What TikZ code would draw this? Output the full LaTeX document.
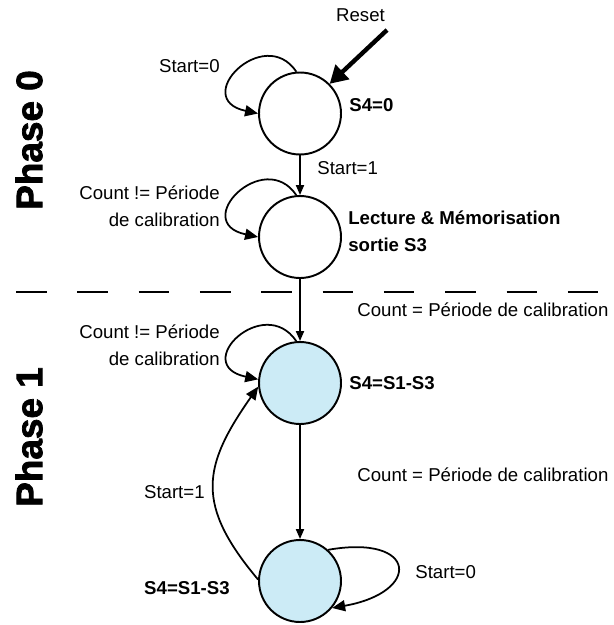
\documentclass[tikz,border=0pt]{standalone}
\usepackage{fontspec}
\setmainfont{Liberation Sans}
\newfontfamily\phasefont[FakeBold=2]{Liberation Sans Bold}
\usetikzlibrary{positioning,arrows.meta}
\definecolor{stateblue}{RGB}{204,235,246}

\begin{document}
\begin{tikzpicture}[x=0.02cm,y=0.02cm,
  state/.style={circle,draw,line width=1.1pt,minimum size=1.64cm,inner sep=0pt},
  lbl/.style={inner sep=0pt,font=\fontsize{10.6}{15.4}\selectfont},
  blbl/.style={inner sep=0pt,font=\fontsize{10.6}{15.4}\selectfont\bfseries},
  phase/.style={rotate=90,inner sep=0pt,font=\fontsize{21}{21}\selectfont\phasefont},
  trans/.style={line width=1pt,-{Triangle[length=5.7pt,width=4.6pt]}},
  loopy/.style={line width=1pt,-{Triangle[length=7.4pt,width=6.3pt]}}]
\useasboundingbox (0,0) rectangle (614,-625);
% states
\node[state] (s0) at (300,-113.5) {};
\node[state] (s1) at (300,-237) {};
\node[state,fill=stateblue] (s2) at (300,-383) {};
\node[state,fill=stateblue] (s3) at (300,-581) {};
% phase separator
\draw[line width=1.1pt,dash pattern=on 17.4pt off 17.5pt] (16,-292) -- (614,-292);
\node[phase] (ph0) at (29,-140) {Phase 0};
\node[phase] (ph1) at (29,-437) {Phase 1};
% reset
\coordinate (reset) at (387,-30);
\node[lbl] (rst) at (360.5,-15) {Reset};
\draw[line width=2.5pt,-{Triangle[length=10pt,width=11pt]}] (reset) -- (s0.45);
% transitions
\draw[trans] (s0.south) -- (s1.north);
\draw[trans] (s1.south) -- (s2.north);
\draw[trans] (s2.south) -- (s3.north);
\draw[loopy] (s0.95) .. controls +(124:58) and +(168:70) .. (s0.west);
\draw[loopy] (s1.95) .. controls +(124:58) and +(168:70) .. (s1.west);
\draw[loopy] (s2.95) .. controls +(124:58) and +(168:70) .. (s2.175);
\draw[loopy] (s3.178) to[out=130,in=235,looseness=1.3] (s2.185);
\draw[loopy] (s3.48) to[out=10,in=10,looseness=4] (s3.-40);
% labels
\node[lbl,anchor=east] (l0) at (220,-66) {Start=0};
\node[blbl,anchor=west] (o0) at (349,-105) {S4=0};
\node[lbl,anchor=west] (l1) at (317,-168) {Start=1};
\node[lbl,anchor=east,align=right] (l2) at (220,-206.5) {Count != Période\\de calibration};
\node[blbl,anchor=west,align=left] (o1) at (348,-231.5) {Lecture \& Mémorisation\\sortie S3};
\node[lbl,anchor=west] (l3) at (357,-310) {Count = Période de calibration};
\node[lbl,anchor=east,align=right] (l4) at (220,-345.5) {Count != Période\\de calibration};
\node[blbl,anchor=west] (o2) at (349,-383) {S4=S1-S3};
\node[lbl,anchor=west] (l5) at (357,-475) {Count = Période de calibration};
\node[lbl,anchor=east] (l6) at (205,-492) {Start=1};
\node[blbl,anchor=east] (o3) at (230,-588) {S4=S1-S3};
\node[lbl,anchor=west] (l7) at (415,-572) {Start=0};
\end{tikzpicture}
\end{document}
